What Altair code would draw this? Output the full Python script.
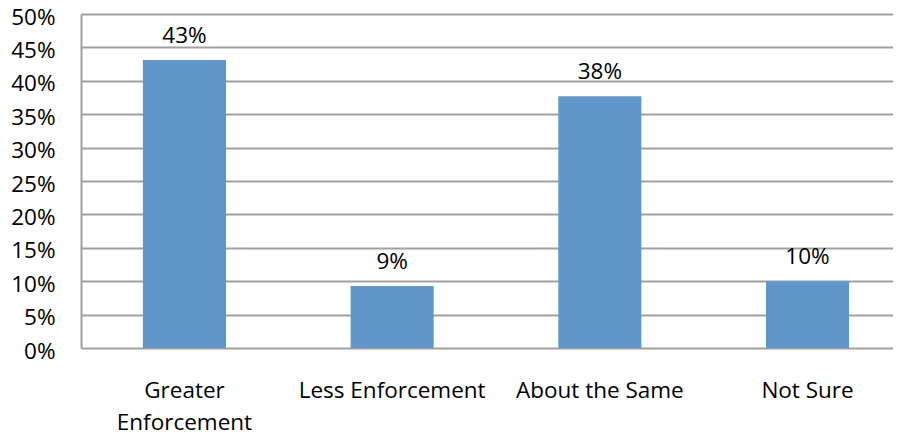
import altair as alt
import pandas as pd

categories = ["Greater Enforcement", "Less Enforcement", "About the Same", "Not Sure"]
values = [0.431, 0.093, 0.377, 0.100]
y_ticks = [0, 0.05, 0.10, 0.15, 0.20, 0.25, 0.30, 0.35, 0.40, 0.45, 0.50]

df = pd.DataFrame({"category": categories, "value": values})

FONT = "Open Sans"
FS = 22.5
BAR = "#6096C9"
GRID = "#A0A0A0"

x = alt.X(
    "category:N",
    sort=categories,
    title=None,
    scale=alt.Scale(paddingInner=0.6, paddingOuter=0.2548, align=0.585),
    axis=alt.Axis(
        labelAngle=0,
        ticks=False,
        domain=False,
        labelFont=FONT,
        labelFontSize=FS,
        labelColor="#000000",
        labelPadding=31,
        labelLineHeight=32,
        labelOverlap=False,
        labelLimit=400,
        labelBaseline="top",
        labelExpr="datum.value == 'Greater Enforcement' ? ['Greater', 'Enforcement'] : datum.value",
    ),
)
y = alt.Y(
    "value:Q",
    title=None,
    scale=alt.Scale(domain=[0, 0.5], nice=False),
    axis=alt.Axis(
        values=y_ticks,
        format=".0%",
        ticks=False,
        domainColor=GRID,
        domainWidth=2,
        gridColor=GRID,
        gridWidth=2,
        labelFont=FONT,
        labelFontSize=FS,
        labelColor="#000000",
        labelPadding=26,
        labelOffset=3,
        labelOverlap=False,
    ),
)

base = alt.Chart(df).encode(x=x, y=y)
bars = base.mark_bar(color=BAR)
labels = base.mark_text(
    font=FONT, fontSize=FS, color="#000000", baseline="alphabetic", dy=-17
).encode(text=alt.Text("value:Q", format=".0%"))

chart = (
    alt.layer(bars, labels)
    .properties(
        width=812,
        height=334,
        autosize=alt.AutoSizeParams(type="none"),
        padding={"left": 73, "top": 6, "right": 0, "bottom": 84},
    )
    .configure_view(stroke=None)
    .configure(background="white")
)

chart.save("out.html", embed_options={"renderer": "svg", "actions": False})
